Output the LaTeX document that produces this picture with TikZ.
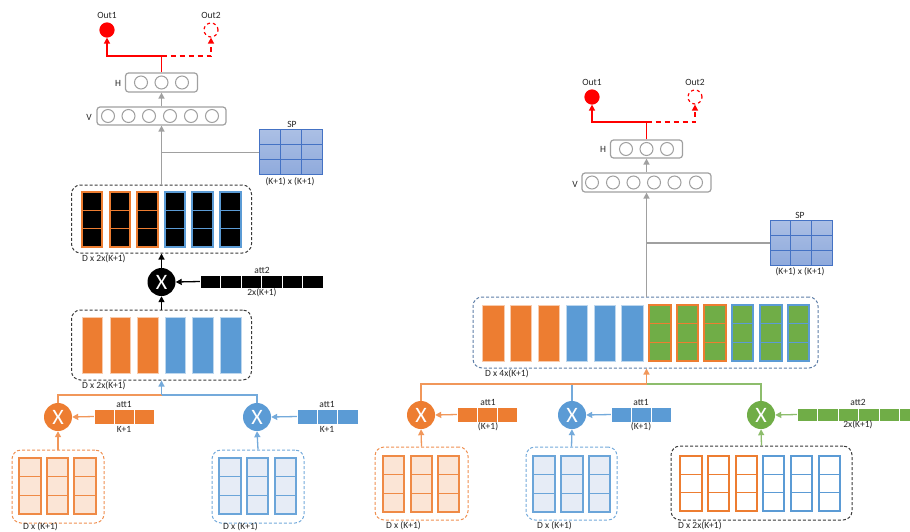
\documentclass[tikz,border=0pt]{standalone}
\usepackage{fontspec}
\setmainfont{Carlito}
\usetikzlibrary{arrows.meta,calc}
\definecolor{myorange}{HTML}{ED7D31}
\definecolor{myblue}{HTML}{5B9BD5}
\definecolor{mygreen}{HTML}{70AD47}
\definecolor{lorange}{HTML}{FBE5D6}
\definecolor{lblue}{HTML}{E6ECF6}
\definecolor{spfill}{HTML}{8FAADC}
\definecolor{spdraw}{HTML}{4472C4}
\definecolor{mygray}{HTML}{A0A0A0}
\definecolor{dgray}{HTML}{3A3A3A}
\definecolor{bgdash}{HTML}{5F7FA8}
\definecolor{myred}{HTML}{FF0000}
\newcommand\colcells[6]{%
 \draw[fill=#5,draw=#6,line width=1.2pt] (#1,#2) rectangle (#3,#4);
 \draw[draw=#6,line width=1.2pt] (#1,{#2+(#4-#2)/3}) -- (#3,{#2+(#4-#2)/3}) (#1,{#2+2*(#4-#2)/3}) -- (#3,{#2+2*(#4-#2)/3});}
\newcommand\solidcol[5]{\draw[fill=#5,draw=white!60!#5,line width=0.6pt] (#1,#2) rectangle (#3,#4);}
\newcommand\barcells[6]{%
 \foreach \i in {1,...,#5} {\draw[fill=#6,draw=white,line width=0.8pt] ({#1+(\i-1)*(#3-#1)/#5},#2) rectangle ({#1+\i*(#3-#1)/#5},#4);}}
\tikzset{
 lbl/.style={font=\fontsize{9.5}{11}\selectfont, inner sep=0, text=black!85},
 dbox/.style={draw=dgray, dashed, dash pattern=on 3pt off 2pt, rounded corners=9pt, line width=1pt, inner sep=0},
 xcirc/.style={circle, minimum size=28pt, inner sep=0, text=white, font=\fontsize{22}{22}\selectfont},
 neuron/.style={circle, draw=mygray, line width=1pt, minimum size=13pt, inner sep=0},
 layer/.style={draw=mygray, line width=1.2pt, rounded corners=3pt, inner sep=0},
 barbox/.style={inner sep=0},
 tip/.style={-{Triangle[length=6pt,width=6pt]}},
 gline/.style={draw=mygray, line width=1.5pt},
 rline/.style={draw=myred, line width=1.5pt},
 oline/.style={draw=myorange!80!white, line width=1.3pt},
 bline/.style={draw=myblue!85!white, line width=1.3pt},
 grline/.style={draw=mygreen!80!white, line width=1.3pt},
 kline/.style={draw=black, line width=1.3pt},
 outc/.style={circle, minimum size=14pt, inner sep=0, line width=1.2pt},
 spgrid/.style={draw=spdraw, line width=1pt, top color=spfill!75!white, bottom color=spfill, inner sep=0},
}
\begin{document}
\begin{tikzpicture}[x=1pt,y=-1pt]
\clip (0,0) rectangle (910,531);
\fill[white] (0,0) rectangle (910,531);

% ================= LEFT =================
% outputs
\node[outc, fill=myred, draw=myred] (o1L) at (107,30) {};
\node[outc, draw=myred, dashed, fill=white] (o2L) at (211,30) {};
\node[lbl] (t1L) at (107,15) {Out1};
\node[lbl] (t2L) at (211,15) {Out2};
% layers
\node[layer, minimum width=72pt, minimum height=19pt] (HL) at (161.5,82.5) {};
\foreach \x [count=\k] in {141,161.5,182} \node[neuron] (hL\k) at (\x,82.5) {};
\node[lbl] (hlabL) at (118,83) {H};
\node[layer, minimum width=129pt, minimum height=18pt] (VL) at (161.5,116) {};
\foreach \x [count=\k] in {108,128.5,149,170,191,212} \node[neuron] (vL\k) at (\x,116) {};
\node[lbl] (vlabL) at (89,117) {V};
% SP
\node[spgrid, minimum width=63pt, minimum height=45pt] (SPL) at (290.5,152) {};
\draw[spdraw, line width=1pt] (280,129.5) -- (280,174.5) (301,129.5) -- (301,174.5) (259,144.5) -- (322,144.5) (259,159.5) -- (322,159.5);
\node[lbl] (spL) at (292,124) {SP};
\node[lbl] (spdL) at (290,182) {(K+1) x (K+1)};
% upper dashed box
\node[dbox, minimum width=180pt, minimum height=68pt] (UL) at (161.5,219) {};
\foreach \a/\b in {82/102,110/130,137/158} {\colcells{\a}{192}{\b}{247}{black}{myorange}}
\foreach \a/\b in {165/185,192/213,220/241} {\colcells{\a}{192}{\b}{247}{black}{myblue}}
\node[lbl, anchor=west] (dUL) at (82,259) {D x 2x(K+1)};
% black X
\node[xcirc, fill=black] (XL) at (161.5,282) {X};
\node[barbox, minimum width=123pt, minimum height=13pt] (att2L) at (261.5,281.5) {};
\barcells{200}{275}{323}{288}{6}{black}
\node[lbl] (a2tL) at (262,270) {att2};
\node[lbl] (a2dL) at (262,293) {2x(K+1)};
% lower dashed box
\node[dbox, minimum width=180pt, minimum height=70pt] (LL) at (161.5,345) {};
\foreach \a/\b in {82/102,110/130,137/158} {\solidcol{\a}{317}{\b}{373}{myorange}}
\foreach \a/\b in {165/185,192/213,220/241} {\solidcol{\a}{317}{\b}{373}{myblue}}
\node[lbl, anchor=west] (dLL) at (82,386) {D x 2x(K+1)};
% orange / blue X
\node[xcirc, fill=myorange] (XoL) at (58,417) {X};
\node[xcirc, fill=myblue] (XbL) at (257,417) {X};
\node[barbox, minimum width=60pt, minimum height=15pt] (a1oL) at (124,416.5) {};
\barcells{94}{409}{154}{424}{3}{myorange}
\node[lbl] (a1otL) at (124,404) {att1};
\node[lbl] (a1odL) at (124,429) {K+1};
\node[barbox, minimum width=61pt, minimum height=15pt] (a1bL) at (327.5,416.5) {};
\barcells{297}{409}{358}{424}{3}{myblue}
\node[lbl] (a1btL) at (327,404) {att1};
\node[lbl] (a1bdL) at (327,429) {K+1};
% input boxes
\node[dbox, draw=myorange!85!white, minimum width=92pt, minimum height=73pt] (BoL) at (58,486.5) {};
\foreach \a/\b in {19/41,47/68,74/96} {\colcells{\a}{458}{\b}{514}{lorange}{myorange!90!white}}
\node[lbl, anchor=west] (dBoL) at (23,527) {D x (K+1)};
\node[dbox, draw=myblue!85!white, minimum width=92pt, minimum height=73pt] (BbL) at (258,486.5) {};
\foreach \a/\b in {219/241,247/268,275/296} {\colcells{\a}{458}{\b}{514}{lblue}{myblue!90!white}}
\node[lbl, anchor=west] (dBbL) at (223,527) {D x (K+1)};
% connectors left
\coordinate (jL) at (161.5,56);
\draw[rline] (HL.north) -- (jL);
\draw[rline, tip] (jL) -| (o1L.south);
\draw[rline, dashed, dash pattern=on 5pt off 4pt, tip] (jL) -| (o2L.south);
\draw[gline, tip] (VL.north) -- (HL.south);
\draw[gline, tip] (UL.north) -- (VL.south);
\coordinate (bL) at (161.5,152.5);
\draw[gline] (bL) -- (SPL.west |- bL);
\draw[kline, tip] (XL.north) -- (UL.south);
\draw[kline, tip] (att2L.west) -- (XL.east);
\draw[kline, tip] (LL.north) -- (XL.south);
\coordinate (jLL) at (161.5,395);
\draw[oline] (XoL.north) |- (jLL);
\draw[bline] (XbL.north) |- (jLL);
\draw[bline, tip] (jLL) -- (LL.south);
\draw[oline, tip] (a1oL.west) -- (XoL.east);
\draw[bline, tip] (a1bL.west) -- (XbL.east);
\draw[oline, tip] (BoL.north) -- (XoL.south);
\draw[bline, tip] (BbL.north) -- (XbL.south);

% ================= RIGHT =================
\node[outc, fill=myred, draw=myred] (o1R) at (592,97) {};
\node[outc, draw=myred, dashed, fill=white] (o2R) at (695,97) {};
\node[lbl] (t1R) at (592,82) {Out1};
\node[lbl] (t2R) at (695,82) {Out2};
\node[layer, minimum width=72pt, minimum height=18pt] (HR) at (646.5,149) {};
\foreach \x [count=\k] in {626,646.5,667} \node[neuron] (hR\k) at (\x,149) {};
\node[lbl] (hlabR) at (603,149) {H};
\node[layer, minimum width=129pt, minimum height=19pt] (VR) at (646.5,182.5) {};
\foreach \x [count=\k] in {592,613,633.5,654,674.5,696} \node[neuron] (vR\k) at (\x,182.5) {};
\node[lbl] (vlabR) at (575,184) {V};
\node[spgrid, minimum width=62pt, minimum height=45pt] (SPR) at (801,242.5) {};
\draw[spdraw, line width=1pt] (790.7,220) -- (790.7,265) (811.3,220) -- (811.3,265) (770,235) -- (832,235) (770,250) -- (832,250);
\node[lbl] (spR) at (800,215) {SP};
\node[lbl] (spdR) at (800,272) {(K+1) x (K+1)};
% big box
\node[dbox, draw=bgdash, minimum width=345pt, minimum height=71pt] (BigR) at (645.5,332.5) {};
\foreach \a/\b in {482/504,510/531,538/559} {\solidcol{\a}{305}{\b}{361}{myorange}}
\foreach \a/\b in {566/587,594/615,621/643} {\solidcol{\a}{305}{\b}{361}{myblue}}
\foreach \a/\b in {649/671,677/698,704/726} {\colcells{\a}{305}{\b}{361}{mygreen}{myorange}}
\foreach \a/\b in {732/753,760/782,788/809} {\colcells{\a}{305}{\b}{361}{mygreen}{myblue}}
\node[lbl, anchor=west] (dBigR) at (485,374) {D x 4x(K+1)};
% X circles
\node[xcirc, fill=myorange] (XoR) at (421,415) {X};
\node[xcirc, fill=myblue] (XbR) at (572,415) {X};
\node[xcirc, fill=mygreen] (XgR) at (761,415) {X};
\node[barbox, minimum width=60pt, minimum height=15pt] (a1oR) at (487,414.5) {};
\barcells{457}{407}{517}{422}{3}{myorange}
\node[lbl] (a1otR) at (488,402) {att1};
\node[lbl] (a1odR) at (488,427) {(K+1)};
\node[barbox, minimum width=60pt, minimum height=15pt] (a1bR) at (641,414.5) {};
\barcells{611}{407}{671}{422}{3}{myblue}
\node[lbl] (a1btR) at (641,402) {att1};
\node[lbl] (a1bdR) at (641,427) {(K+1)};
\node[barbox, minimum width=123pt, minimum height=13pt] (a2R) at (858.5,414.5) {};
\barcells{797}{408}{920}{421}{6}{mygreen}
\node[lbl] (a2tR) at (858,402) {att2};
\node[lbl] (a2dR) at (858,425) {2x(K+1)};
% input boxes
\node[dbox, draw=myorange!85!white, minimum width=93pt, minimum height=73pt] (BoR) at (421.5,483.5) {};
\foreach \a/\b in {383/404,411/432,438/459} {\colcells{\a}{456}{\b}{512}{lorange}{myorange!90!white}}
\node[lbl, anchor=west] (dBoR) at (386,526) {D x (K+1)};
\node[dbox, draw=myblue!85!white, minimum width=91pt, minimum height=73pt] (BbR) at (571.5,483.5) {};
\foreach \a/\b in {533/555,561/583,589/610} {\colcells{\a}{456}{\b}{512}{lblue}{myblue!90!white}}
\node[lbl, anchor=west] (dBbR) at (537,526) {D x (K+1)};
\node[dbox, minimum width=181pt, minimum height=74pt] (BkR) at (761.5,483) {};
\foreach \a/\b in {680/702,708/729,736/757} {\colcells{\a}{456}{\b}{511}{white}{myorange}}
\foreach \a/\b in {763/784,791/812,819/840} {\colcells{\a}{456}{\b}{511}{white}{myblue}}
\node[lbl, anchor=west] (dBkR) at (678,526) {D x 2x(K+1)};
% connectors right
\coordinate (jR) at (646.5,122);
\draw[rline] (HR.north) -- (jR);
\draw[rline, tip] (jR) -| (o1R.south);
\draw[rline, dashed, dash pattern=on 5pt off 4pt, tip] (jR) -| (o2R.south);
\draw[gline, tip] (VR.north) -- (HR.south);
\draw[gline, tip] (BigR.north -| VR.south) -- (VR.south);
\coordinate (bR) at (646.5,243);
\draw[gline] (bR) -- (SPR.west |- bR);
\coordinate (jRR) at (646.5,384);
\draw[bline] (XbR.north) -- (XbR.north |- jRR);
\draw[grline] (XgR.north) |- (jRR);
\draw[oline] (XoR.north) |- (jRR);
\draw[oline, tip] (jRR) -- (BigR.south -| jRR);
\draw[oline, tip] (a1oR.west) -- (XoR.east);
\draw[bline, tip] (a1bR.west) -- (XbR.east);
\draw[grline, tip] (a2R.west) -- (XgR.east);
\draw[oline, tip] (BoR.north) -- (XoR.south);
\draw[bline, tip] (BbR.north) -- (XbR.south);
\draw[grline, tip] (BkR.north) -- (XgR.south);
\end{tikzpicture}
\end{document}
